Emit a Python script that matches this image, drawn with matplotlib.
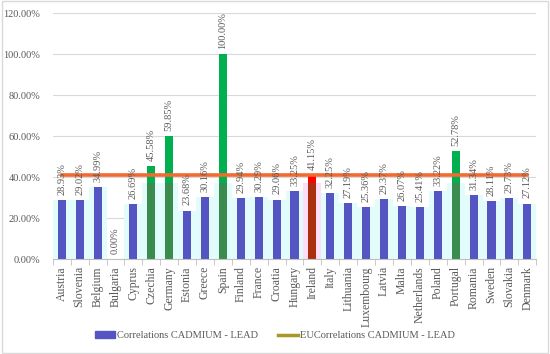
import numpy as np
import matplotlib.pyplot as plt
from matplotlib.lines import Line2D
from matplotlib.patches import Patch, Rectangle

# Data
countries = ["Austria", "Slovenia", "Belgium", "Bulgaria", "Cyprus", "Czechia", "Germany",
             "Estonia", "Greece", "Spain", "Finland", "France", "Croatia", "Hungary",
             "Ireland", "Italy", "Lithuania", "Luxembourg", "Latvia", "Malta",
             "Netherlands", "Poland", "Portugal", "Romania", "Sweden", "Slovakia", "Denmark"]
values = [28.93, 29.02, 34.99, 0.00, 26.69, 45.58, 59.85, 23.68, 30.16, 100.00,
          29.94, 30.29, 29.06, 33.25, 41.15, 32.25, 27.19, 25.36, 29.37, 26.07,
          25.41, 33.22, 52.78, 31.34, 28.11, 29.73, 27.12]
eu_value = 41.15
green = ["Czechia", "Germany", "Spain", "Portugal"]
red = ["Ireland"]

plt.rcParams["font.family"] = ["Liberation Serif", "DejaVu Serif"]
txt = "#595959"

fig = plt.figure(figsize=(5.5, 3.54), dpi=100)
ax = fig.add_axes([0.096, 0.268, 0.879, 0.695])

x = np.arange(len(countries))
vals = np.array(values)
glow_top = 37.0

# soft background glow behind the bars
glow = np.minimum(vals, glow_top)
glow_cols = ["#FFDDF6" if c in red else "#E2FCFC" for c in countries]
ax.bar(x, glow, width=1.0, color=glow_cols, zorder=1)

bar_cols = []
dark_cols = []
for c in countries:
    if c in green:
        bar_cols.append("#00B050")
        dark_cols.append("#3A8C4E")
    elif c in red:
        bar_cols.append("#FF0000")
        dark_cols.append("#A83010")
    else:
        bar_cols.append("#5454C2")
        dark_cols.append("#5454C2")
ax.bar(x, vals, width=0.45, color=bar_cols, zorder=2)
ax.bar(x, glow, width=0.45, color=dark_cols, zorder=2)

for xi, v in zip(x, vals):
    ax.text(xi, v + 2.5, f"{v:.2f}%", rotation=90, ha="center", va="bottom",
            fontsize=7.5, color=txt, zorder=4)

ax.plot([x[0], x[-1]], [eu_value, eu_value], color="#F26A30", lw=2.6, zorder=3)

ax.set_xlim(-0.5, len(countries) - 0.5)
ax.set_ylim(0, 120)
ax.set_yticks(np.arange(0, 121, 20))
ax.set_yticklabels([f"{t:.2f}%" for t in np.arange(0, 121, 20)], fontsize=7.5, color=txt)
ax.yaxis.grid(True, color="#D9D9D9", lw=0.8)
ax.set_axisbelow(True)
ax.tick_params(axis="y", length=0, pad=9)

ax.set_xticks(x)
ax.set_xticklabels(countries, rotation=90, fontsize=8.5, color=txt)
ax.set_xticks(np.arange(-0.5, len(countries), 1), minor=True)
ax.tick_params(axis="x", which="major", length=0, pad=5)
ax.tick_params(axis="x", which="minor", length=4, color="#BFBFBF")

for s in ["top", "right", "left"]:
    ax.spines[s].set_visible(False)
ax.spines["bottom"].set_color("#BFBFBF")

handles = [Patch(color="#5454C2"),
           Line2D([0], [0], color="#A8982A", lw=2.5)]
labels = ["Correlations CADMIUM - LEAD", "EUCorrelations CADMIUM - LEAD"]
leg = fig.legend(handles, labels, loc="center", bbox_to_anchor=(0.5, 0.052), ncol=2,
                 frameon=False, fontsize=7.5, handlelength=1.9, handletextpad=0.2,
                 columnspacing=2.0)
for t in leg.get_texts():
    t.set_color(txt)

fig.patches.append(Rectangle((0.003, 0.003), 0.994, 0.994, transform=fig.transFigure,
                             fill=False, edgecolor="#D9D9D9", lw=1))

fig.savefig("out.png", dpi=100)
